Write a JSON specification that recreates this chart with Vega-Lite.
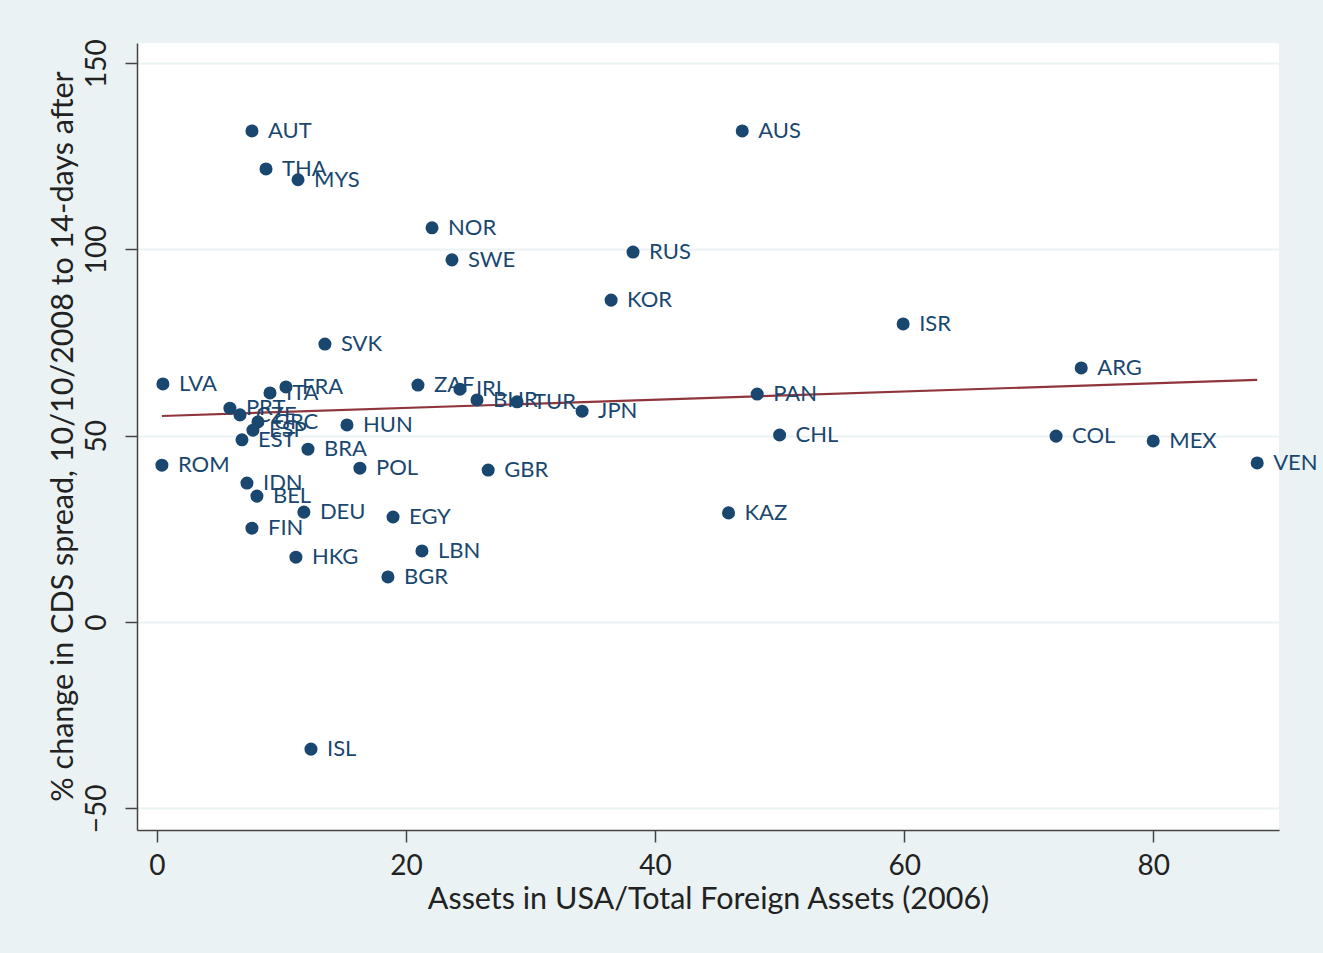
{
  "$schema": "https://vega.github.io/schema/vega-lite/v6.json",
  "width": 1142,
  "height": 787,
  "autosize": {"type": "none"},
  "padding": {"left": 137, "top": 43, "right": 44, "bottom": 123},
  "background": "#eaf2f3",
  "config": {
    "view": {"fill": "white", "stroke": null},
    "font": "Lato",
    "axis": {
      "labelFont": "Lato",
      "titleFont": "Lato",
      "labelFontSize": 28,
      "titleFontSize": 30.5,
      "labelColor": "#222222",
      "titleColor": "#222222",
      "titleFontWeight": "normal",
      "domainColor": "#444444",
      "domainWidth": 1.5,
      "tickColor": "#444444",
      "tickWidth": 1.5,
      "tickSize": 12
    }
  },
  "datasets": {
    "pts": [
      {"iso": "AUT", "assets": 7.63, "cds": 131.8},
      {"iso": "AUS", "assets": 47.0, "cds": 131.8},
      {"iso": "THA", "assets": 8.76, "cds": 121.6},
      {"iso": "MYS", "assets": 11.33, "cds": 118.7},
      {"iso": "NOR", "assets": 22.09, "cds": 105.8},
      {"iso": "SWE", "assets": 23.69, "cds": 97.2},
      {"iso": "RUS", "assets": 38.23, "cds": 99.3},
      {"iso": "KOR", "assets": 36.47, "cds": 86.4},
      {"iso": "ISR", "assets": 59.92, "cds": 80.0},
      {"iso": "SVK", "assets": 13.49, "cds": 74.6},
      {"iso": "ARG", "assets": 74.22, "cds": 68.2},
      {"iso": "LVA", "assets": 0.48, "cds": 63.9},
      {"iso": "ZAF", "assets": 20.96, "cds": 63.6},
      {"iso": "FRA", "assets": 10.36, "cds": 63.1},
      {"iso": "ITA", "assets": 9.08, "cds": 61.5},
      {"iso": "IRL", "assets": 24.33, "cds": 62.5},
      {"iso": "BHR", "assets": 25.7, "cds": 59.6},
      {"iso": "TUR", "assets": 28.92, "cds": 59.1},
      {"iso": "JPN", "assets": 34.14, "cds": 56.6},
      {"iso": "PRT", "assets": 5.86, "cds": 57.4},
      {"iso": "CZE", "assets": 6.67, "cds": 55.6},
      {"iso": "GRC", "assets": 8.11, "cds": 53.7},
      {"iso": "ESP", "assets": 7.71, "cds": 51.5},
      {"iso": "EST", "assets": 6.83, "cds": 48.9},
      {"iso": "HUN", "assets": 15.26, "cds": 52.9},
      {"iso": "BRA", "assets": 12.13, "cds": 46.4},
      {"iso": "ROM", "assets": 0.40, "cds": 42.1},
      {"iso": "POL", "assets": 16.3, "cds": 41.3},
      {"iso": "GBR", "assets": 26.6, "cds": 40.8},
      {"iso": "IDN", "assets": 7.23, "cds": 37.3},
      {"iso": "BEL", "assets": 8.03, "cds": 33.8},
      {"iso": "DEU", "assets": 11.8, "cds": 29.5},
      {"iso": "EGY", "assets": 18.96, "cds": 28.2},
      {"iso": "KAZ", "assets": 45.9, "cds": 29.3},
      {"iso": "FIN", "assets": 7.63, "cds": 25.2},
      {"iso": "HKG", "assets": 11.16, "cds": 17.4},
      {"iso": "LBN", "assets": 21.28, "cds": 19.1},
      {"iso": "BGR", "assets": 18.55, "cds": 12.1},
      {"iso": "ISL", "assets": 12.37, "cds": -34.1},
      {"iso": "PAN", "assets": 48.2, "cds": 61.2},
      {"iso": "CHL", "assets": 50.0, "cds": 50.2},
      {"iso": "COL", "assets": 72.2, "cds": 49.9},
      {"iso": "MEX", "assets": 80.0, "cds": 48.6},
      {"iso": "VEN", "assets": 88.35, "cds": 42.7}
    ],
    "fit": [
      {"assets": 0.4, "cds": 55.3},
      {"assets": 88.35, "cds": 65.0}
    ]
  },
  "encoding": {
    "x": {
      "field": "assets",
      "type": "quantitative",
      "scale": {"domain": [-1.6, 90.1], "nice": false, "zero": false},
      "axis": {
        "values": [0, 20, 40, 60, 80],
        "grid": false,
        "title": "Assets in USA/Total Foreign Assets (2006)",
        "labelPadding": 10,
        "labelBaseline": "top",
        "titleX": 571,
        "titleY": 78,
        "titleBaseline": "alphabetic",
        "titleAlign": "center"
      }
    },
    "y": {
      "field": "cds",
      "type": "quantitative",
      "scale": {"domain": [-55.8, 155.4], "nice": false, "zero": false},
      "axis": {
        "values": [-50, 0, 50, 100, 150],
        "grid": true,
        "gridColor": "#eaf2f3",
        "gridWidth": 2,
        "title": "% change in CDS spread, 10/10/2008 to 14-days after",
        "labelAngle": -90,
        "labelAlign": "center",
        "labelBaseline": "bottom",
        "labelPadding": 14,
        "titleAngle": -90,
        "titleX": -65,
        "titleY": 393,
        "titleAlign": "center",
        "titleBaseline": "alphabetic"
      }
    }
  },
  "layer": [
    {
      "data": {"name": "fit"},
      "mark": {"type": "line", "color": "#90353b", "strokeWidth": 2.2},
      "encoding": {}
    },
    {
      "data": {"name": "pts"},
      "mark": {"type": "circle", "color": "#1a476f", "opacity": 1, "size": 170},
      "encoding": {}
    },
    {
      "data": {"name": "pts"},
      "mark": {"type": "text", "align": "left", "baseline": "middle", "dx": 16, "fontSize": 22, "color": "#1a476f", "font": "Lato"},
      "encoding": {"text": {"field": "iso"}}
    }
  ]
}
